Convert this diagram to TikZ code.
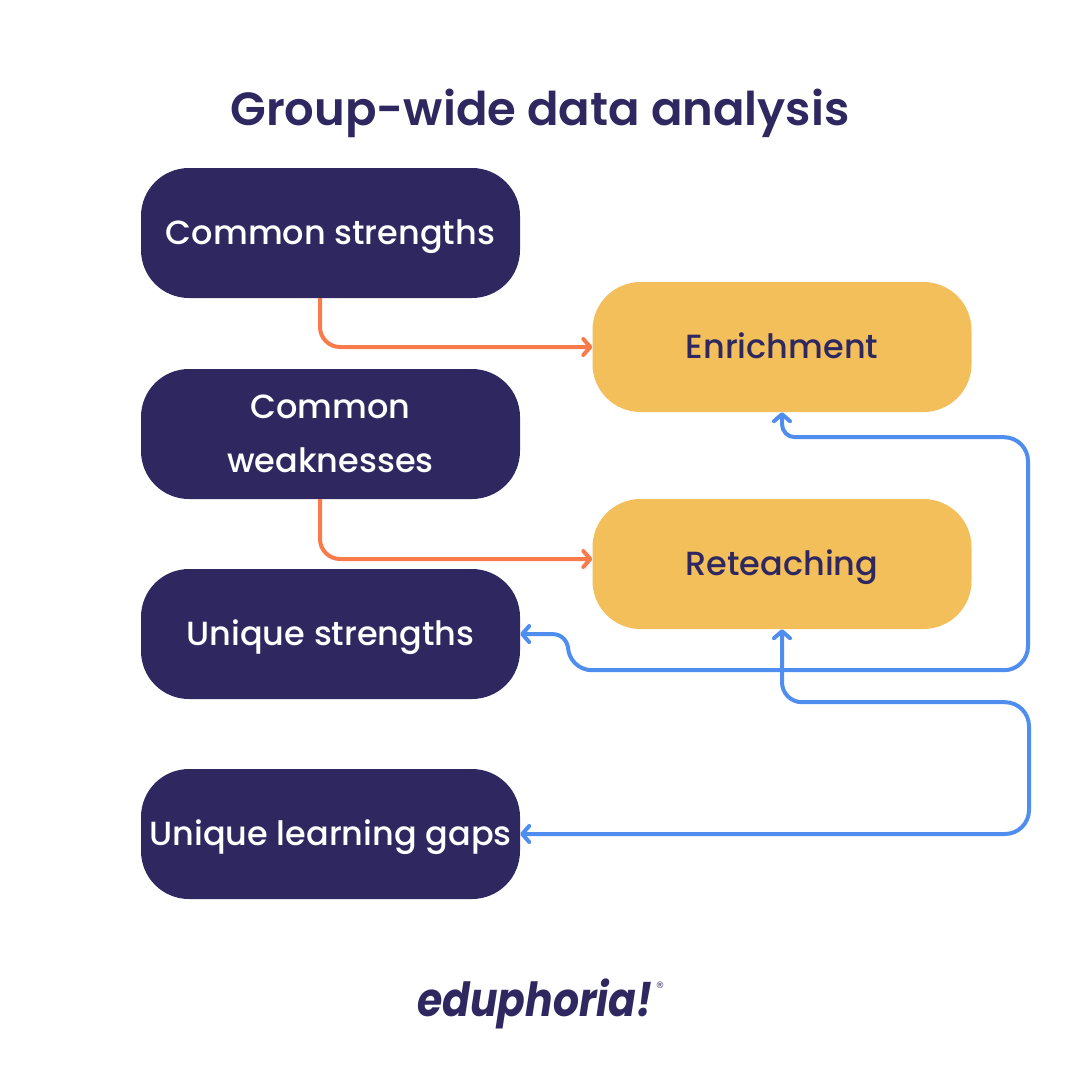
\documentclass[tikz,border=0pt]{standalone}
\usepackage{fontspec}
\setmainfont{Poppins}
\newfontfamily\mediumfont{Poppins Medium}
\newfontfamily\titlefont{Poppins SemiBold}
\newfontfamily\markfont{DejaVu Sans}
\usetikzlibrary{arrows.meta}
\definecolor{navybox}{HTML}{2F2860}
\definecolor{yellowbox}{HTML}{F2BF5A}
\definecolor{orangeline}{HTML}{F97B4C}
\definecolor{blueline}{HTML}{4F8DEE}
\begin{document}
\begin{tikzpicture}
[x=1pt,y=-1pt,
  >={Straight Barb[round,length=7pt,width=16pt]},
  boxdecorate/.style={shape=rectangle,rounded corners=48pt,minimum width=379pt,
    minimum height=130pt,inner sep=0pt,align=center,font=\fontsize{33.5}{54}\selectfont\mediumfont},%
  navydecorate/.style={boxdecorate,fill=navybox,text=white},%
  yellowdecorate/.style={boxdecorate,fill=yellowbox,text=navybox},%
  linedecorate/.style={line width=4pt,rounded corners=20pt},%
  orangedecorate/.style={linedecorate,->,draw=orangeline},%
  bluedecorate/.style={linedecorate,<->,draw=blueline}]
\useasboundingbox (0,0) rectangle (1080,1080);
%% title and logo
\node (title) at (540,113) [text=navybox,font=\fontsize{46.5}{54}\selectfont\titlefont] {Group-wide data analysis};
\node (logo) at (535,1004) [text=navybox,font=\fontsize{47}{54}\selectfont\bfseries\itshape] {\scalebox{0.87}[1]{eduphoria!}};
\node (mark) at (660,985) [text=navybox,inner sep=0pt,font=\fontsize{9}{9}\selectfont\markfont] {®};
%% nodes or vertices
\foreach \nodename/\y/\nodetext in {
  strengths/233/Common strengths, unique/634/Unique strengths,
  gaps/834/Unique learning gaps} {
  \node (\nodename) at (330.5,\y) [navydecorate,text height=30pt,text depth=8pt] {\nodetext};
}
\node (weaknesses) at (330.5,434) [navydecorate] {Common\\weaknesses};
\foreach \nodename/\y/\nodetext in {
  enrichment/347/Enrichment, reteaching/564/Reteaching} {
  \node (\nodename) at (782,\y) [yellowdecorate,text height=30pt,text depth=8pt] {\nodetext};
}
%% edges or lines
\foreach \startnode/\endnode/\shift in {strengths/enrichment/0pt, weaknesses/reteaching/5pt} {
  \draw [orangedecorate] ([xshift=-10.5pt]\startnode.south) |- ([yshift=\shift]\endnode.west);
}
\draw [bluedecorate,rounded corners=13pt] (enrichment.south) -- ++(0,25) [rounded corners=24pt] -- ++(246,0) -- ++(0,233)
  -- ++(-460,0) [rounded corners=15pt] -- ++(0,-36) -- (unique.east);
\draw [bluedecorate] (reteaching.south) -- ++(0,73) [rounded corners=24pt] -- ++(247,0) |- (gaps.east);
\end{tikzpicture}
\end{document}
